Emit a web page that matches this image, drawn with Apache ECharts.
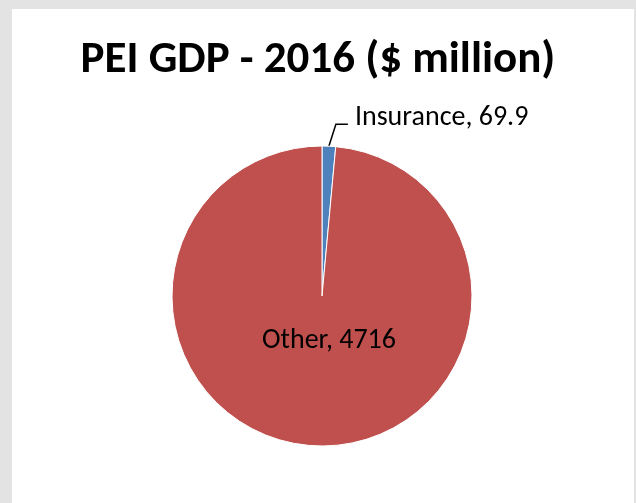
<!DOCTYPE html>
<html>
<head>
<meta charset="utf-8">
<script src="https://cdn.jsdelivr.net/npm/echarts@6/dist/echarts.min.js"></script>
<style>
html,body{margin:0;padding:0;background:#e3e3e3;}
#chart{width:636px;height:503px;}
</style>
</head>
<body>
<div id="chart"></div>
<script>
const titleText = 'PEI GDP - 2016 ($ million)';
const categories = ['Insurance', 'Other'];
const values = [69.9, 4716];
const colors = ['#4F81BD', '#C0504D'];

const FONT = "Carlito, 'Liberation Sans', Arial, sans-serif";
const chart = echarts.init(document.getElementById('chart'), null, {renderer: 'canvas'});

const data = categories.map((c, i) => {
  const d = {name: c, value: values[i], itemStyle: {color: colors[i]}};
  if (i === 1) {
    d.label = {position: 'center', offset: [7, 45], padding: 0};
    d.labelLine = {show: false};
  }
  return d;
});

chart.setOption({
  backgroundColor: '#e3e3e3',
  animation: false,
  graphic: [{
    type: 'rect', z: -10, silent: true,
    shape: {x: 12, y: 9, width: 622, height: 500},
    style: {fill: '#ffffff'}
  }],
  title: {
    text: titleText,
    left: 'center',
    top: 33,
    textStyle: {fontFamily: FONT, fontWeight: 'bold', fontSize: 45, color: '#000'}
  },
  series: [{
    type: 'pie',
    center: [322, 296],
    radius: ['0%', 150],
    startAngle: 90,
    clockwise: true,
    avoidLabelOverlap: false,
    itemStyle: {borderColor: '#ffffff', borderWidth: 1},
    label: {
      show: true,
      position: 'outside',
      formatter: p => p.name + ', ' + p.value,
      fontFamily: FONT,
      fontSize: 28,
      color: '#000',
      distanceToLabelLine: 7
    },
    labelLine: {show: true, length: 22, length2: 18, lineStyle: {color: '#000', width: 1.5}},
    labelLayout: function (params) {
      const pts = params.labelLinePoints;
      if (!pts || pts.length < 3) return {};
      return {
        dy: -6,
        labelLinePoints: [pts[0], [pts[1][0] + 6, pts[1][1]], pts[2]]
      };
    },
    emphasis: {disabled: true},
    data: data
  }]
});
</script>
</body>
</html>
